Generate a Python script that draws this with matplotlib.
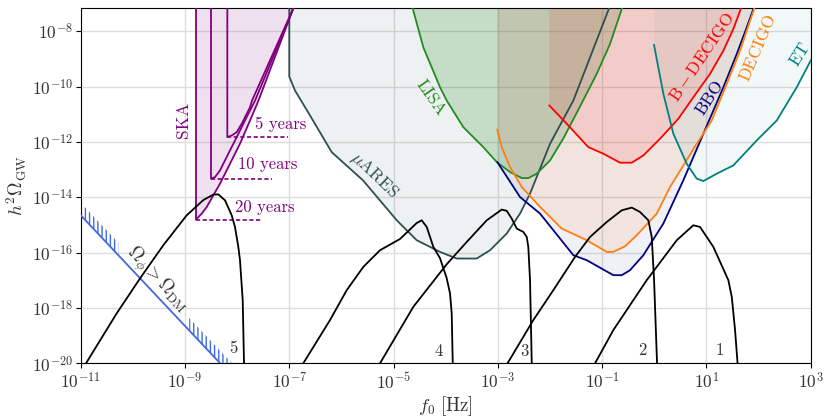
import numpy as np
import matplotlib
matplotlib.use("Agg")
import matplotlib.pyplot as plt

plt.rcParams['font.family'] = 'serif'
plt.rcParams['font.serif'] = ['cmr10']
plt.rcParams['mathtext.fontset'] = 'cm'
plt.rcParams['axes.formatter.use_mathtext'] = True
plt.rcParams['hatch.linewidth'] = 1.0

# ---------------- data (log10 f [Hz], log10 h^2 Omega) ----------------
TOP = -6.0

# SKA (5, 10, 20 years)
ska20_lf = [-8.789, -8.789, -8.679, -8.583, -8.457, -8.328, -8.169, -7.945, -7.753, -7.590, -6.923, -6.79]
ska20_lo = [TOP, -14.807, -14.591, -14.353, -13.931, -13.509, -12.910, -12.066, -11.226, -10.505, -7.176, -6.5]
ska10_lf = [-8.501, -8.501, -8.424, -8.328, -8.169, -8.008, -7.849, -7.656, -6.923, -6.79]
ska10_lo = [TOP, -13.329, -13.271, -13.029, -12.427, -11.828, -11.226, -10.505, -7.176, -6.5]
ska5_lf = [-8.188, -8.188, -8.104, -8.008, -7.912, -7.753, -7.714, -6.923, -6.79]
ska5_lo = [TOP, -11.828, -11.767, -11.648, -11.345, -10.747, -10.505, -7.176, -6.5]
ska_dash_lo = [-11.828, -13.329, -14.807]
ska_dash_lf0 = [-8.188, -8.501, -8.789]
ska_dash_lf1 = [-7.018, -7.337, -7.529]

# muARES
mares_lf = [-7.0, -7.0, -6.890, -6.602, -6.186, -5.586, -4.939, -4.556, -4.109, -3.789, -3.405,
            -3.150, -2.830, -2.575, -2.383, -1.999, -1.552, -0.868, -0.627]
mares_lo = [TOP, -9.638, -10.143, -11.045, -12.371, -13.389, -14.832, -15.553, -15.975, -16.214, -16.214,
            -15.914, -15.312, -14.591, -13.869, -12.066, -10.505, -7.176, TOP]

# LISA
lisa_lf = [-4.80, -4.633, -4.429, -4.109, -3.981, -3.662, -3.279, -3.021, -2.766, -2.542, -2.415,
           -2.254, -1.999, -1.744, -1.424, -1.104, -0.849, -0.624, -0.41]
lisa_lo = [TOP, -7.176, -8.583, -10.025, -10.505, -11.468, -12.189, -12.730, -13.090, -13.307, -13.307,
           -13.148, -12.669, -11.875, -10.721, -9.542, -8.460, -7.198, TOP]

# BBO
bbo_lf = [-3.010, -2.575, -2.191, -1.552, -1.295, -0.785, -0.624, -0.465, -0.210, 0.174, 0.557,
          0.941, 1.325, 1.582, 1.773, 1.900, 2.13]
bbo_lo = [-12.730, -13.992, -14.591, -16.094, -16.275, -16.816, -16.816, -16.636, -16.094, -14.949, -13.388,
          -11.706, -10.025, -8.821, -7.862, -7.198, TOP]

# DECIGO
dec_lf = [-3.010, -2.926, -2.766, -2.542, -2.191, -1.775, -1.295, -0.912, -0.785, -0.561, -0.336,
          0.047, 0.302, 0.814, 1.102, 1.390, 1.645, 1.837, 1.914, 2.13]
dec_lo = [-11.561, -12.189, -12.910, -13.631, -14.347, -15.132, -15.553, -15.975, -15.975, -15.770, -15.373,
          -14.591, -13.631, -12.066, -11.226, -9.903, -8.702, -7.620, -7.198, TOP]

# B-DECIGO
bdec_lf = [-2.013, -1.679, -1.265, -0.977, -0.657, -0.432, -0.210, 0.110, 0.461, 0.749, 1.069,
           1.325, 1.516, 1.658, 1.893]
bdec_lo = [-10.685, -11.345, -12.189, -12.427, -12.751, -12.751, -12.488, -11.886, -11.165, -10.386, -9.542,
           -8.702, -7.919, -7.198, TOP]

# ET
et_lf = [-0.005, 0.174, 0.366, 0.622, 0.814, 0.941, 1.198, 1.516, 1.965, 2.349, 2.732, 3.0, 3.2]
et_lo = [-8.496, -10.263, -11.706, -12.788, -13.329, -13.415, -13.148, -12.849, -11.947, -11.226, -10.025, -9.062, -8.4]

# Omega_phi > Omega_DM bound (straight line)
dm_lf = [-11.0, -8.0]
dm_lo = [-14.65, -20.65]
dm_hatch_ranges = [(-11.0, -10.28), (-8.92, -8.08)]
dm_hatch_height = 0.45

# GW spectra 1..5
c5_lf = [-10.898, -10.310, -9.863, -9.416, -8.967, -8.649, -8.457, -8.361, -8.232, -8.104, -8.041, -7.977, -7.945, -7.893, -7.868, -7.866]
c5_lo = [-20.0, -18.197, -16.935, -15.734, -14.652, -14.102, -13.905, -13.895, -14.111, -14.652, -15.074, -15.795, -16.275, -17.717, -20.0, -21.0]
c4_lf = [-6.731, -6.219, -5.898, -5.580, -5.260, -4.876, -4.556, -4.460, -4.364, -4.237, -4.109, -3.981, -3.917, -3.885, -3.865, -3.864]
c4_lo = [-20.0, -18.439, -17.357, -16.516, -15.914, -15.508, -14.930, -14.833, -15.074, -15.795, -16.203, -16.924, -17.476, -18.197, -20.0, -21.0]
c3_lf = [-5.260, -4.621, -3.980, -3.597, -3.213, -2.926, -2.830, -2.734, -2.638, -2.511, -2.446, -2.416, -2.383, -2.350, -2.349]
c3_lo = [-20.0, -17.959, -16.419, -15.615, -14.832, -14.446, -14.490, -14.771, -15.132, -15.254, -15.435, -15.795, -16.996, -20.0, -21.0]
c2_lf = [-2.814, -2.320, -1.936, -1.520, -1.232, -0.912, -0.624, -0.432, -0.273, -0.114, -0.049, -0.004, 0.053, 0.054]
c2_lo = [-20.0, -18.439, -17.357, -16.156, -15.435, -14.894, -14.472, -14.374, -14.533, -14.832, -15.435, -16.996, -20.0, -21.0]
c1_lf = [-1.136, -0.785, -0.145, 0.431, 0.749, 0.878, 1.133, 1.420, 1.486, 1.549, 1.597, 1.598]
c1_lo = [-20.0, -18.799, -16.996, -15.553, -15.012, -15.074, -15.795, -16.996, -17.598, -18.799, -20.0, -21.0]
curve_labels = ['5', '4', '3', '2', '1']
curve_label_lf = [-8.073, -4.142, -2.492, -0.221, 1.248]
curve_label_lo = [-19.46, -19.55, -19.55, -19.52, -19.52]

x_ticks = [-11, -9, -7, -5, -3, -1, 1, 3]
y_ticks = [-20, -18, -16, -14, -12, -10, -8]
xlim = (-11, 3)
ylim = (-20, -7.15)


def p(v):
    return 10.0 ** np.asarray(v, dtype=float)


fig = plt.figure(figsize=(8.31, 4.2), dpi=100)
ax = fig.add_axes([0.0971, 0.135, 0.8785, 0.8467])
ax.set_xscale('log')
ax.set_yscale('log')
ax.set_axisbelow(True)

# ---------------- fills ----------------
def fill_top(lf, lo, color, alpha, closed_top=False):
    lf = list(lf)
    lo = list(lo)
    if not closed_top:
        lf = lf + [lf[-1], lf[0]]
        lo = lo + [TOP, TOP]
    ax.fill(p(lf), p(lo), color=color, alpha=alpha, lw=0, zorder=1)

fill_top(mares_lf, mares_lo, 'darkslategray', 0.08, closed_top=True)
fill_top(lisa_lf, lisa_lo, 'forestgreen', 0.2, closed_top=True)
fill_top(bbo_lf, bbo_lo, 'navy', 0.06)
fill_top(dec_lf, dec_lo, '#ff7f0e', 0.1)
fill_top(bdec_lf, bdec_lo, 'red', 0.1)
fill_top(et_lf, et_lo, 'teal', 0.05)
fill_top(ska20_lf, ska20_lo, 'purple', 0.12)

lw = 1.3
# ---------------- detector curves ----------------
ax.plot(p(mares_lf), p(mares_lo), color='darkslategray', lw=lw, zorder=3)
ax.plot(p(lisa_lf), p(lisa_lo), color='forestgreen', lw=lw, zorder=3)
ax.plot(p(bbo_lf), p(bbo_lo), color='navy', lw=lw, zorder=3)
ax.plot(p(dec_lf), p(dec_lo), color='#ff7f0e', lw=lw, zorder=3)
ax.plot(p(bdec_lf), p(bdec_lo), color='red', lw=lw, zorder=3)
ax.plot(p(et_lf), p(et_lo), color='teal', lw=lw, zorder=3)
for lf, lo in [(ska20_lf, ska20_lo), (ska10_lf, ska10_lo), (ska5_lf, ska5_lo)]:
    ax.plot(p(lf), p(lo), color='purple', lw=lw, zorder=3)
for lo, a, b in zip(ska_dash_lo, ska_dash_lf0, ska_dash_lf1):
    ax.plot(p([a, b]), p([lo, lo]), color='purple', lw=1.2, ls=(0, (2.5, 1.5)), zorder=3)

# ---------------- DM bound ----------------
ax.plot(p(dm_lf), p(dm_lo), color='royalblue', lw=lw, zorder=3)
for a, b in dm_hatch_ranges:
    hx = np.linspace(a, b, 30)
    hy = np.interp(hx, dm_lf, dm_lo)
    ax.fill_between(p(hx), p(hy), p(hy + dm_hatch_height), facecolor='none',
                    edgecolor='royalblue', hatch='||||', linewidth=0, zorder=2)

# ---------------- GW spectra ----------------
for lf, lo in [(c5_lf, c5_lo), (c4_lf, c4_lo), (c3_lf, c3_lo), (c2_lf, c2_lo), (c1_lf, c1_lo)]:
    ax.plot(p(lf), p(lo), color='black', lw=lw, zorder=4)
for t, a, b in zip(curve_labels, curve_label_lf, curve_label_lo):
    ax.text(10 ** a, 10 ** b, t, fontsize=12, color='0.2', ha='center', va='center', zorder=5)

# ---------------- labels ----------------
ax.text(10 ** -9.038, 10 ** -11.19, 'SKA', color='purple', fontsize=12.5, rotation=90,
        ha='center', va='center')
ax.text(10 ** -7.653, 10 ** -11.37, '5 years', color='purple', fontsize=12, ha='left', va='center')
ax.text(10 ** -7.977, 10 ** -12.824, '10 years', color='purple', fontsize=12, ha='left', va='center')
ax.text(10 ** -8.041, 10 ** -14.374, '20 years', color='purple', fontsize=12, ha='left', va='center')
ax.text(10 ** -4.285, 10 ** -10.415, 'LISA', color='forestgreen', fontsize=12.5, rotation=-55,
        ha='center', va='center')
ax.text(10 ** -5.375, 10 ** -13.209, r'$\mu$ARES', color='darkslategray', fontsize=12.5, rotation=-44,
        ha='center', va='center')
ax.text(10 ** 0.910, 10 ** -8.943, r'$\mathrm{B-DECIGO}$', color='red', fontsize=12.5, rotation=56,
        ha='center', va='center')
ax.text(10 ** 1.069, 10 ** -10.386, 'BBO', color='navy', fontsize=12.5, rotation=57,
        ha='center', va='center')
ax.text(10 ** 1.98, 10 ** -8.583, 'DECIGO', color='#ff7f0e', fontsize=12.5, rotation=67,
        ha='center', va='center')
ax.text(10 ** 2.795, 10 ** -8.846, 'ET', color='teal', fontsize=12.5, rotation=58,
        ha='center', va='center')
ax.text(10 ** -9.527, 10 ** -16.967, r'$\Omega_\phi > \Omega_{\rm DM}$', color='0.2', fontsize=13.5,
        rotation=-47, ha='center', va='center')

# ---------------- axes ----------------
ax.set_xlim(10 ** xlim[0], 10 ** xlim[1])
ax.set_ylim(10 ** ylim[0], 10 ** ylim[1])
ax.set_xticks(p(x_ticks))
ax.set_xticklabels([r'$10^{%d}$' % v for v in x_ticks])
ax.set_yticks(p(y_ticks))
ax.set_yticklabels([r'$10^{%d}$' % v for v in y_ticks])
ax.minorticks_off()
ax.tick_params(direction='out', length=3.5, labelsize=12.5, labelcolor='0.2', pad=2)
ax.grid(True, color='0.87', lw=1.0)
ax.set_xlabel(r'$f_0\ [\mathrm{Hz}]$', fontsize=13.5, color='0.2', labelpad=2)
ax.set_ylabel(r'$h^2\Omega_{\rm GW}$', fontsize=13.5, color='0.2', labelpad=2)

fig.savefig('out.png', dpi=100)
